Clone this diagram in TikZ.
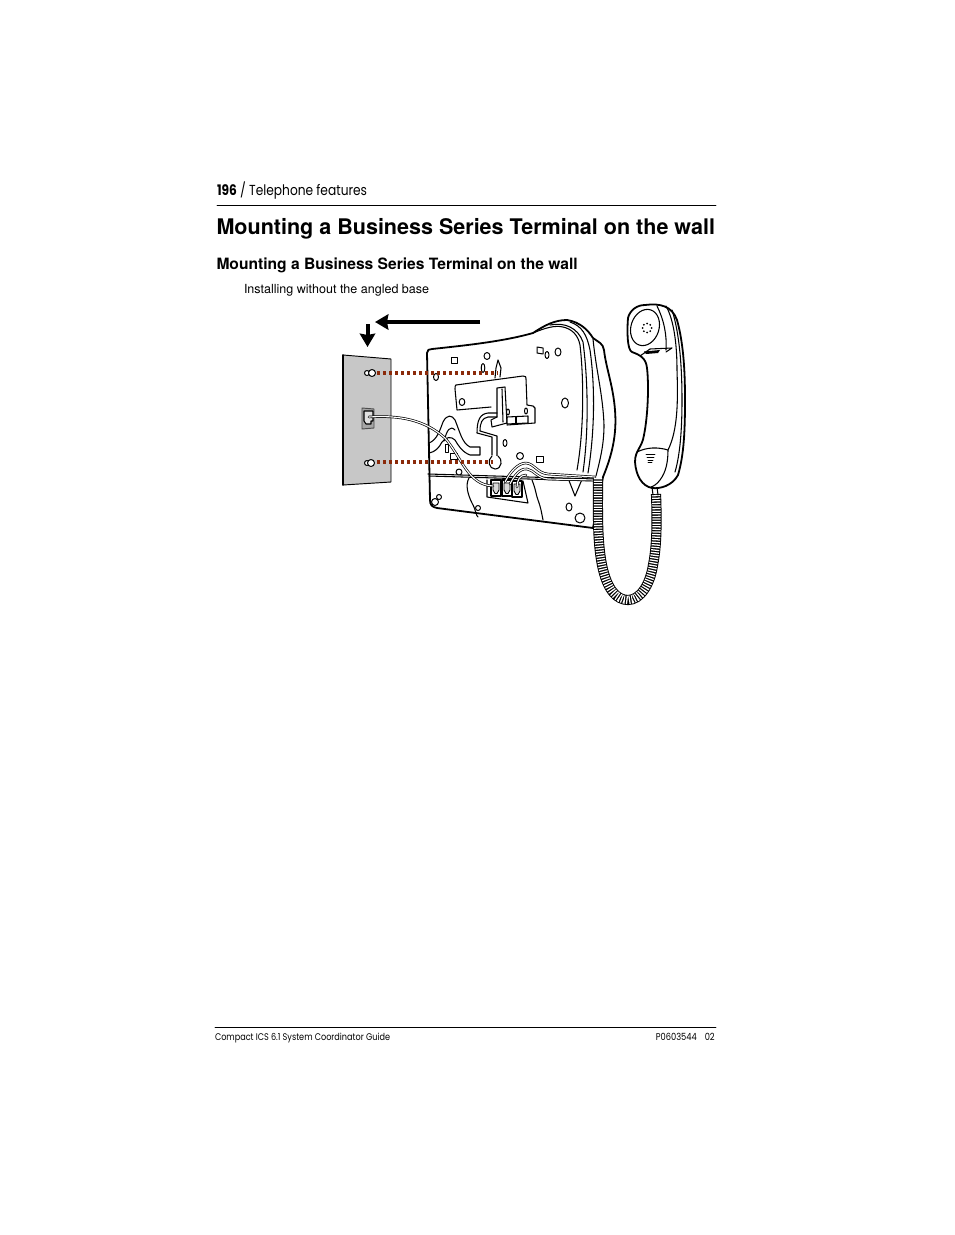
\documentclass[tikz,border=0pt]{standalone}
\usepackage{fontspec}
\setmainfont{TeX Gyre Heros}
\newfontfamily\headfont[FakeStretch=0.84]{Poppins}
\usetikzlibrary{arrows.meta}
\definecolor{pegred}{RGB}{139,42,10}
\begin{document}
\begin{tikzpicture}[x=0.75pt, y=-0.75pt, line join=round, line cap=round, >=stealth,
	body/.style={draw=black, line width=0.8pt},
	heavy/.style={draw=black, line width=1.35pt},
	hole/.style={draw=black, line width=0.75pt, fill=white},
	peg/.style={draw=pegred, line width=2.3pt, line cap=butt, dash pattern=on 2.3pt off 2.2pt},
	pusharrow/.style={line width=3pt, line cap=butt, -{Stealth[length=10pt, width=11.5pt, inset=1pt]}},
	wire/.style={line width=1.9pt, draw=black, postaction={draw=white, line width=0.85pt}},
	coil/.style={draw=white, line width=6.2pt, line cap=butt, dash pattern=on 0.95pt off 1pt, preaction={draw=black, line width=7.6pt, line cap=butt}},
	rulel/.style={draw=black, line width=0.6pt},
	txt/.style={anchor=base west, inner sep=0pt, outer sep=0pt}]
	\useasboundingbox (0,0) rectangle (954,1235);
	\fill[white] (0,0) rectangle (954,1235);

	\node[txt, font=\headfont\fontsize{10.9}{13}\selectfont] (pagehead) at (217,195) {\textbf{196} / Telephone features};
	\draw[rulel] (217,205.5)--(716,205.5);
	\node[txt, font=\fontsize{16.15}{20}\selectfont\bfseries] (title) at (216.5,234) {Mounting a Business Series Terminal on the wall};
	\node[txt, font=\fontsize{11.7}{14}\selectfont\bfseries] (subtitle) at (216.5,269) {Mounting a Business Series Terminal on the wall};
	\node[txt, font=\fontsize{9.4}{12}\selectfont] (caption) at (244,293) {Installing without the angled base};
	\draw[rulel] (215,1027.5)--(716,1027.5);
	\node[txt, font=\headfont\fontsize{7.25}{9}\selectfont] (footl) at (215,1040) {Compact ICS 6.1 System Coordinator Guide};
	\node[anchor=base east, inner sep=0pt, font=\headfont\fontsize{7.4}{9}\selectfont] (footr) at (715,1040) {P0603544\hspace{6pt}02};

	\draw[pusharrow] (480,322)--(375,322);
	\draw[pusharrow] (367.5,324)--(367.5,347);

	\draw[fill=black!22, line width=0.7pt] (343,355)--(391,359)--(391,482)--(343,485)--cycle;
	\draw[line width=1.2pt] (343,355)--(343,485);
	\draw[hole] (367,373) circle (2.5);
	\draw[hole] (372,373) circle (3.5);
	\draw[hole] (367,463) circle (2.5);
	\draw[hole] (371,463) circle (3.5);
	\draw[draw=black!70, line width=0.7pt, fill=black!35] (362,408)--(374,409)--(374,428)--(362,429)--cycle;
	\draw[body, fill=black!12] (364,411)--(373,411)--(373,421)--(371,421)--(371,424)--(366,424)--(364,421)--cycle;

	% phone body
	\draw[heavy, fill=white] (427,353) .. controls (427,350) and (429,349) .. (432,349)
		.. controls (470,345) and (505,341) .. (533,333) .. controls (545,325) and (555,320) .. (567,320)
		.. controls (580,322) and (588,330) .. (593,338) .. controls (598,342) and (603,343) .. (604,350)
		.. controls (606,368) and (613,385) .. (615,410) .. controls (617,435) and (612,455) .. (603,477)
		-- (593,528) -- (437,508) .. controls (432,507) and (430,505) .. (430,500) -- cycle;
	\draw[body] (533,333) .. controls (545,328) and (555,325) .. (563,327) .. controls (572,329) and (578,335) .. (580,345)
		.. controls (584,380) and (584,430) .. (577,470);
	\draw[body] (550,325) .. controls (565,322) and (578,328) .. (583,342) .. controls (588,380) and (589,430) .. (583,472);
	\draw[body] (570,322) .. controls (582,326) and (587,335) .. (590,350) .. controls (595,385) and (595,430) .. (588,473);
	\draw[body] (593,339) .. controls (596,370) and (603,395) .. (604,425) .. controls (604,445) and (600,460) .. (596,476);
	\draw[body] (428,474)--(595,479);
	\draw[body] (429,476)--(595,481);

	% back panel
	\draw[body] (456,385)--(523,376) .. controls (526,376) and (526,377) .. (526,379) -- (527,405)--(533,406)--(535,408)--(535,423)--(507,425);
	\draw[body] (456,385) .. controls (455,385) and (455,387) .. (455,389) -- (457,410) -- (491,407);
	\draw[body] (495,378)--(496,368)--(498,360)--(501,368)--(500,377);
	\draw[body, fill=white] (497,388)--(505,387)--(507,423)--(492,427)--(491,420)--(497,417)--cycle;
	\draw[body] (502,389)--(503,422);
	\draw[body, fill=white] (507,417)--(528,416)--(528,423)--(507,424)--cycle;
	\draw[body] (516,417)--(516,424);
	\draw[body] (497,413)--(488,413) .. controls (480,414) and (477,420) .. (477,433) -- (492,437) -- (492,455);
	\draw[body] (497,417)--(488,417) .. controls (482,418) and (480,423) .. (480,431) -- (497,436) -- (497,456);
	\draw[body, fill=white] (492,456) .. controls (487,460) and (489,469) .. (495,469) .. controls (502,469) and (503,459) .. (498,456);
	\draw[hole] (454.5,360.5) +(-3.5,-3.5) rectangle +(3,3);
	\draw[hole] (487,356) ellipse [x radius=3, y radius=3.5];
	\draw[hole] (483,368) ellipse [x radius=1.8, y radius=4.5];
	\draw[hole] (436,377) ellipse [x radius=2.5, y radius=3.5];
	\draw[hole] (462,402) ellipse [x radius=2.8, y radius=3.5];
	\draw[hole] (508,412) ellipse [x radius=1.5, y radius=3];
	\draw[hole] (526,411) ellipse [x radius=1.5, y radius=3];
	\draw[hole] (565,403) ellipse [x radius=3.5, y radius=5];
	\draw[hole] (537,347)--(543,348)--(543,354)--(537,353)--cycle;
	\draw[hole] (547,355) ellipse [x radius=2, y radius=3.5];
	\draw[hole] (558,352) ellipse [x radius=3, y radius=4];
	\draw[hole] (505,443) ellipse [x radius=2, y radius=3.5];
	\draw[hole] (520,456) circle (3.5);
	\draw[hole] (536,456) rectangle (543,462);
	\draw[hole] (459,472) circle (3);

	% strain relief
	\draw[body] (429,443) .. controls (437,440) and (440,430) .. (443,422) .. controls (447,414) and (452,415) .. (455,420)
		.. controls (460,432) and (462,443) .. (470,447) -- (480,447) -- (480,455) -- (470,455)
		.. controls (462,452) and (458,445) .. (455,440) .. controls (451,436) and (446,437) .. (442,442)
		.. controls (439,448) and (435,452) .. (429,453);
	\draw[body] (444,441) .. controls (447,430) and (450,425) .. (455,430);
	\draw[hole] (445.5,444) rectangle (448.5,452);
	\draw[hole] (450,453) rectangle (457,459);

	% lower compartment
	\draw[body] (469,478) .. controls (465,485) and (468,495) .. (472,503) .. controls (476,510) and (476,516) .. (478,517);
	\draw[body] (532,480) .. controls (536,490) and (536,495) .. (538,500) .. controls (541,508) and (542,515) .. (543,520);
	\draw[body] (568,478)--(575,496)--(583,477);
	\draw[body] (487,480)--(487,497)--(528,503)--(523,481);
	\foreach \name/\cx/\cy in {sa/496/488, sb/507/488, sc/517/489} {
		\draw[body, fill=white] (\cx-5,\cy-8) -- (\cx+5,\cy-8) -- (\cx+5,\cy+8) -- (\cx-5,\cy+8) -- cycle;
		\draw[line width=0.65pt, fill=black!15] (\cx-3,\cy-5) -- (\cx+3,\cy-5) -- (\cx+3,\cy+2) -- (\cx+1,\cy+5.5) -- (\cx-1,\cy+5.5) -- (\cx-3,\cy+2) -- cycle;
	}
	\draw[hole] (435,502) circle (3.5);
	\draw[hole] (439,497) circle (2.5);
	\draw[hole] (478,508) circle (2.5);
	\draw[hole] (569,507) ellipse [x radius=3, y radius=4];
	\draw[hole] (580,518) circle (5);
	\draw[wire] (505,482) .. controls (510,472) and (518,463) .. (526,463) .. controls (535,464) and (537,473) .. (548,474) -- (595,477);
	\draw[wire] (510,484) .. controls (514,476) and (520,468) .. (527,469) .. controls (534,470) and (537,478) .. (548,479) -- (595,480);
	\draw[wire] (517,487) .. controls (517,480) and (520,475) .. (526,475);

	\draw[wire] (369,417) .. controls (400,415) and (425,420) .. (445,438) .. controls (462,458) and (468,485) .. (493,486);
	\draw[peg] (377,373)--(498,373);
	\draw[peg] (377,462)--(493,462);

	% handset
	\draw[coil] (598,478) .. controls (598,510) and (597,540) .. (602,565) .. controls (607,590) and (617,600) .. (628,600)
		.. controls (640,600) and (650,585) .. (653,565) .. controls (657,545) and (657,520) .. (656,494);
	\draw[body] (652,487)--(653,495);
	\draw[body] (657,487)--(658,495);
	\draw[heavy, fill=white] (628,318) .. controls (630,310) and (637,305) .. (645,305) .. controls (660,303) and (672,306) .. (677,320)
		.. controls (684,345) and (685,375) .. (685,400) .. controls (685,430) and (684,455) .. (678,475)
		.. controls (672,486) and (660,489) .. (652,488) .. controls (642,486) and (636,476) .. (635,462)
		.. controls (635,450) and (642,448) .. (644,435) .. controls (648,415) and (649,385) .. (647,368)
		.. controls (646,358) and (640,355) .. (632,352) .. controls (627,350) and (627,330) .. (628,318) -- cycle;
	\draw[body, rotate around={-18:(645,327.5)}] (645,327.5) ellipse [x radius=14, y radius=18.5];
	\draw[body] (640,356)--(650,349)--(672,348)--(666,352);
	\fill (644,351.5)--(660,350)--(658,353)--(646,354)--cycle;
	\draw[body] (657,306) .. controls (664,320) and (667,335) .. (666,350);
	\draw[body] (666,306) .. controls (674,320) and (677,345) .. (677,370) .. controls (678,400) and (678,430) .. (668,450);
	\draw[body] (672,310) .. controls (680,335) and (682,370) .. (682,400) .. controls (682,430) and (680,455) .. (675,472);
	\draw[body] (637,452) .. controls (647,447) and (658,447) .. (668,450) .. controls (668,462) and (666,472) .. (660,480) .. controls (657,484) and (654,486) .. (651,487);
	\foreach \yy/\xa/\xb in {454/646/655, 457/647/654, 460/648/653, 462/648/652}
		\draw[line width=0.6pt] (\xa,\yy)--(\xb,\yy);
	\foreach \ang in {0,45,...,315}
		\fill (647,328) +(\ang:4.5) circle (1);
\end{tikzpicture}
\end{document}
